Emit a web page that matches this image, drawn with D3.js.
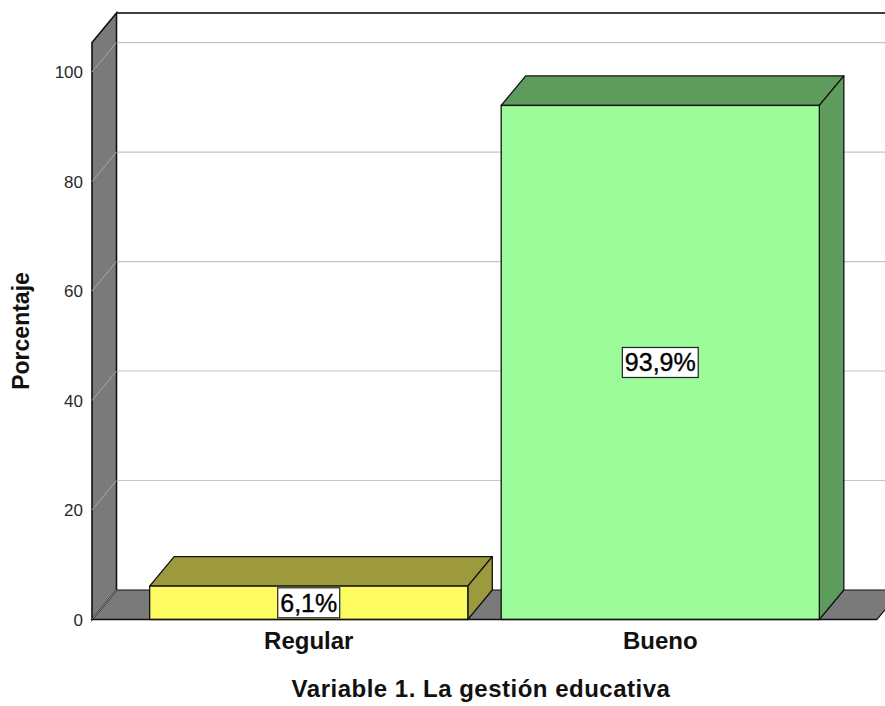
<!DOCTYPE html>
<html>
<head>
<meta charset="utf-8">
<script src="https://cdn.jsdelivr.net/npm/d3@7"></script>
<style>
  html, body { margin: 0; padding: 0; background: #fff; }
  svg { display: block; font-family: "Liberation Sans", Arial, sans-serif; }
</style>
</head>
<body>
<svg id="chart" width="885" height="706"></svg>
<script>
// Data
const categories = ["Regular", "Bueno"];
const percentages = [6.1, 93.9];
const valueLabels = ["6,1%", "93,9%"];
const yTicks = [0, 20, 40, 60, 80, 100];
const frontColors = ["#fdfb62", "#9cfc9a"];
const shadeColors = ["#9c9a3c", "#5e9c5e"];

const svg = d3.select("#chart");
const W = 885, H = 706;

// Front plane of the 3D frame and its depth offset
const frameLeft = 92, frameRight = 877, frameBottom = 619.5, frameTop = 42.5;
const dx = 24.5, dy = -29.5;
const yMax = 105.4;

const x = d3.scaleBand()
  .domain(categories)
  .range([frameLeft, frameRight])
  .paddingInner(0.095)
  .paddingOuter(0.164);

const y = d3.scaleLinear()
  .domain([0, yMax])
  .range([frameBottom, frameTop]);

const wallGray = "#7a7a7a";
const line = d3.line();

const g = svg.append("g");

// Back wall top edge
g.append("path")
  .attr("d", line([[frameLeft + dx, y(yMax) + dy], [W + 5, y(yMax) + dy]]))
  .attr("stroke", "#000").attr("stroke-width", 1.6).attr("fill", "none");

// Floor
g.append("path")
  .attr("d", line([[frameLeft, frameBottom], [frameLeft + dx, frameBottom + dy],
                   [frameRight + dx, frameBottom + dy], [frameRight, frameBottom]]) + "Z")
  .attr("fill", wallGray).attr("stroke", "#111").attr("stroke-width", 1.2);

// Left side wall
g.append("path")
  .attr("d", line([[frameLeft, frameBottom], [frameLeft, y(yMax)],
                   [frameLeft + dx, y(yMax) + dy], [frameLeft + dx, frameBottom + dy]]) + "Z")
  .attr("fill", wallGray).attr("stroke", "#111").attr("stroke-width", 1.6);

// Gridlines on the back wall and across the side wall
const gridTicks = yTicks.filter(d => d > 0);
g.selectAll(".grid-back").data(gridTicks).join("line")
  .attr("x1", frameLeft + dx + 1).attr("x2", W)
  .attr("y1", d => y(d) + dy).attr("y2", d => y(d) + dy)
  .attr("stroke", "#c4c4c4").attr("stroke-width", 1.2);
g.selectAll(".grid-side").data(yTicks).join("line")
  .attr("x1", frameLeft).attr("x2", frameLeft + dx)
  .attr("y1", d => y(d)).attr("y2", d => y(d) + dy)
  .attr("stroke", "#a8a8a8").attr("stroke-width", 1);

// Bars as boxes: top face, right side, front face
const bars = g.selectAll(".bar").data(categories).join("g");
bars.append("path")
  .attr("d", (c, i) => {
    const x0 = x(c), x1 = x(c) + x.bandwidth(), yt = y(percentages[i]);
    return line([[x0, yt], [x0 + dx, yt + dy], [x1 + dx, yt + dy], [x1, yt]]) + "Z";
  })
  .attr("fill", (c, i) => shadeColors[i]).attr("stroke", "#111").attr("stroke-width", 1.3)
  .attr("stroke-linejoin", "round");
bars.append("path")
  .attr("d", (c, i) => {
    const x1 = x(c) + x.bandwidth(), yt = y(percentages[i]);
    return line([[x1, yt], [x1 + dx, yt + dy], [x1 + dx, frameBottom + dy], [x1, frameBottom]]) + "Z";
  })
  .attr("fill", (c, i) => shadeColors[i]).attr("stroke", "#111").attr("stroke-width", 1.3)
  .attr("stroke-linejoin", "round");
bars.append("rect")
  .attr("x", c => x(c))
  .attr("y", (c, i) => y(percentages[i]))
  .attr("width", x.bandwidth())
  .attr("height", (c, i) => frameBottom - y(percentages[i]))
  .attr("fill", (c, i) => frontColors[i]).attr("stroke", "#111").attr("stroke-width", 1.3);

// Floor front edge
g.append("line")
  .attr("x1", frameLeft).attr("x2", frameRight).attr("y1", frameBottom).attr("y2", frameBottom)
  .attr("stroke", "#111").attr("stroke-width", 1.6);

// Value labels in boxes, centred on each bar's front face
const labels = g.selectAll(".val").data(categories).join("g")
  .attr("transform", (c, i) => `translate(${x(c) + x.bandwidth() / 2},${(y(percentages[i]) + frameBottom) / 2})`);
labels.each(function (c, i) {
  const sel = d3.select(this);
  const t = sel.append("text")
    .attr("text-anchor", "middle").attr("dy", "0.36em")
    .attr("font-size", 25).attr("fill", "#000")
    .attr("stroke", "#000").attr("stroke-width", 0.35)
    .text(valueLabels[i]);
  const bb = t.node().getBBox();
  const padX = 2.5, padY = 1;
  let h = bb.height + padY * 2;
  const maxH = frameBottom - y(percentages[i]);
  if (h > maxH) h = maxH;
  sel.insert("rect", "text")
    .attr("x", bb.x - padX).attr("y", -h / 2)
    .attr("width", bb.width + padX * 2).attr("height", h)
    .attr("fill", "#fff").attr("stroke", "#222").attr("stroke-width", 1.2);
});

// Y tick labels
svg.selectAll(".ytick").data(yTicks).join("text")
  .attr("x", 83).attr("y", d => y(d)).attr("dy", "0.36em")
  .attr("text-anchor", "end").attr("font-size", 17).attr("fill", "#2a2a2a")
  .text(d => d);

// Category labels
svg.selectAll(".xlab").data(categories).join("text")
  .attr("x", c => x(c) + x.bandwidth() / 2).attr("y", 649)
  .attr("text-anchor", "middle").attr("font-size", 24).attr("font-weight", "bold").attr("fill", "#111")
  .text(c => c);

// Axis titles
svg.append("text")
  .attr("x", 481).attr("y", 697)
  .attr("text-anchor", "middle").attr("font-size", 24).attr("font-weight", "bold")
  .attr("letter-spacing", 0.5).attr("fill", "#111")
  .text("Variable 1. La gestión educativa");

svg.append("text")
  .attr("transform", "translate(29,331) rotate(-90)")
  .attr("text-anchor", "middle").attr("font-size", 23).attr("font-weight", "bold").attr("fill", "#111")
  .text("Porcentaje");
</script>
</body>
</html>
